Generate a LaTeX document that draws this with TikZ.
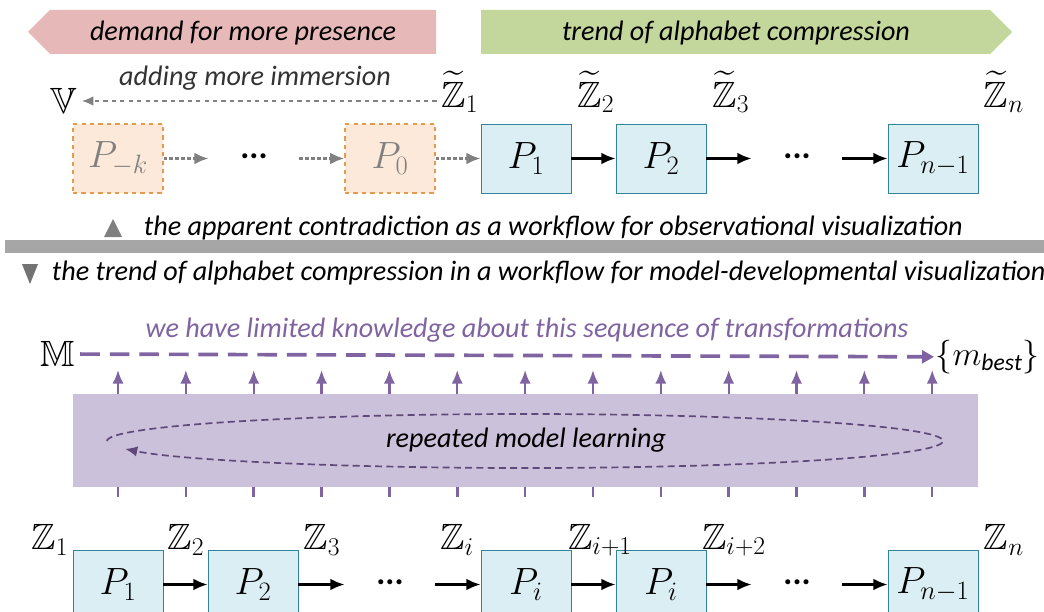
\RequirePackage{fix-cm}
\documentclass[tikz,border=0pt]{standalone}
\usepackage{amsmath,amssymb}
\usepackage{fontspec}
\setmainfont{Carlito}
\usetikzlibrary{arrows.meta,positioning}
\definecolor{demandred}{HTML}{E6B9B8}
\definecolor{trendgreen}{HTML}{C3D69B}
\definecolor{boxline}{HTML}{31849B}
\definecolor{boxfill}{HTML}{DBEEF4}
\definecolor{ghostline}{HTML}{E59A4E}
\definecolor{ghostfill}{HTML}{FDE9D9}
\definecolor{learnfill}{HTML}{CCC1DA}
\definecolor{learnline}{HTML}{8064A2}
\definecolor{loopline}{HTML}{5F497A}
\definecolor{sepgray}{HTML}{A6A6A6}
\begin{document}
\begin{tikzpicture}[x=0.025cm,y=-0.025cm,
  pbox/.style={draw=boxline, fill=boxfill, minimum width=2.25cm, minimum height=1.725cm, inner sep=0pt, font=\fontsize{27}{30}\selectfont},
  ghostbox/.style={pbox, draw=ghostline, fill=ghostfill, dashed, thick, text=gray},
  lbl/.style={font=\fontsize{26}{30}\selectfont},
  says/.style={font=\fontsize{20}{24}\selectfont\itshape},
  flow/.style={-{Latex[length=3.6mm,width=3mm]}, line width=2pt},
  ghostflow/.style={-{Latex[length=3.6mm,width=3mm]}, line width=2.6pt, gray, dash pattern=on 2.6pt off 1.6pt},
  dots/.style={minimum width=2.25cm, inner sep=0pt, font=\fontsize{24}{26}\selectfont\bfseries},
  up/.style={-{Latex[length=3.4mm,width=2.8mm]}, line width=1.6pt, learnline}]
\useasboundingbox (0,0) rectangle (1044,611);
% banners
\fill[demandred] (28,32) -- (50,10) -- (436,10) -- (436,54) -- (50,54) -- cycle;
\fill[trendgreen] (481,10) -- (990,10) -- (1012,32) -- (990,54) -- (481,54) -- cycle;
\node[says] (demand) at (243,33) {demand for more presence};
\node[says] (trend) at (736,33) {trend of alphabet compression};

% observational workflow
\node[ghostbox] (pk) at (118,158.5) {$P_{-k}$};
\node[dots] (gdots) at (254,156) {...};
\node[ghostbox] (p0) at (390,158.5) {$P_0$};
\node[pbox] (p1) at (526,158.5) {$P_1$};
\node[pbox] (p2) at (661,158.5) {$P_2$};
\node[dots] (tdots) at (797,156) {...};
\node[pbox] (pn) at (933,158.5) {$P_{n-1}$};
\draw[ghostflow] (pk) -- (gdots.west |- pk);
\draw[ghostflow] (gdots.east |- p0) -- (p0);
\draw[ghostflow] (p0) -- (p1);
\draw[flow] (p1) -- (p2);
\draw[flow] (p2) -- (tdots.west |- p2);
\draw[flow] (tdots.east |- pn) -- (pn);
\node[lbl] (vv) at (64,101) {$\mathbb{V}$};
\node[lbl] (zt1) at (460,92) {$\widetilde{\mathbb{Z}}_1$};
\node[lbl] (zt2) at (596,92) {$\widetilde{\mathbb{Z}}_2$};
\node[lbl] (zt3) at (731,92) {$\widetilde{\mathbb{Z}}_3$};
\node[lbl] (ztn) at (1004,92) {$\widetilde{\mathbb{Z}}_n$};
\draw[gray, dashed, thick, -{Latex[length=2.8mm,width=2.4mm]}] (zt1.west |- vv) -- (vv);
\node[says, text=black!80] (immerse) at (255,78) {adding more immersion};

% separator
\fill[gray] (104,237) -- (122,237) -- (113,219) -- cycle;
\node[says, anchor=west] (obs) at (139,228) {the apparent contradiction as a workflow for observational visualization};
\fill[sepgray] (5,240) rectangle (1044,253);
\fill[gray!90!black] (22,264) -- (38,264) -- (30,284) -- cycle;
\node[says, anchor=west] (dev) at (47,273) {the trend of alphabet compression in a workflow for model-developmental visualization};

% model-developmental workflow
\node[lbl] (mm) at (58,354) {$\mathbb{M}$};
\node[anchor=west, inner sep=1pt, font=\fontsize{24}{28}\selectfont] (best) at (934,357) {$\{m_{\mathit{best}}\}$};
\draw[learnline, line width=2.6pt, dash pattern=on 14pt off 7pt, -{Triangle[length=3mm,width=3.2mm]}] (mm) -- (best);
\node[says, text=learnline] (limited) at (527,330) {we have limited knowledge about this sequence of transformations};
\node[fill=learnfill, minimum width=22.625cm, minimum height=2.325cm] (learn) at (525.5,440.5) {};
\draw[loopline, line width=1.2pt, dash pattern=on 5pt off 3pt, -{Latex[length=3mm,width=2.6mm]}] (107,441) arc[start angle=180, end angle=523, x radius=418, y radius=27];
\node[says] (repeat) at (526,440) {repeated model learning};
\foreach \i in {0,...,12} {
  \pgfmathsetmacro\xx{118+67.85*\i}
  \draw[up] (\xx,394) -- (\xx,370);
  \draw[learnline, line width=1.8pt] (\xx,487) -- (\xx,497);
}

\node[pbox] (q1) at (118,584.5) {$P_1$};
\node[pbox] (q2) at (253,584.5) {$P_2$};
\node[dots] (qdots) at (390,582) {...};
\node[pbox] (qi) at (526,584.5) {$P_i$};
\node[pbox] (qj) at (661,584.5) {$P_i$};
\node[dots] (rdots) at (797,582) {...};
\node[pbox] (qn) at (933,584.5) {$P_{n-1}$};
\draw[flow] (q1) -- (q2);
\draw[flow] (q2) -- (qdots.west |- q2);
\draw[flow] (qdots.east |- qi) -- (qi);
\draw[flow] (qi) -- (qj);
\draw[flow] (qj) -- (rdots.west |- qj);
\draw[flow] (rdots.east |- qn) -- (qn);
\node[lbl] (z1) at (50,540) {$\mathbb{Z}_1$};
\node[lbl] (z2) at (186,540) {$\mathbb{Z}_2$};
\node[lbl] (z3) at (322,540) {$\mathbb{Z}_3$};
\node[lbl] (zi) at (457,540) {$\mathbb{Z}_i$};
\node[lbl] (zi1) at (600,540) {$\mathbb{Z}_{i+1}$};
\node[lbl] (zi2) at (734,540) {$\mathbb{Z}_{i+2}$};
\node[lbl] (zn) at (1004,540) {$\mathbb{Z}_n$};
\end{tikzpicture}
\end{document}
